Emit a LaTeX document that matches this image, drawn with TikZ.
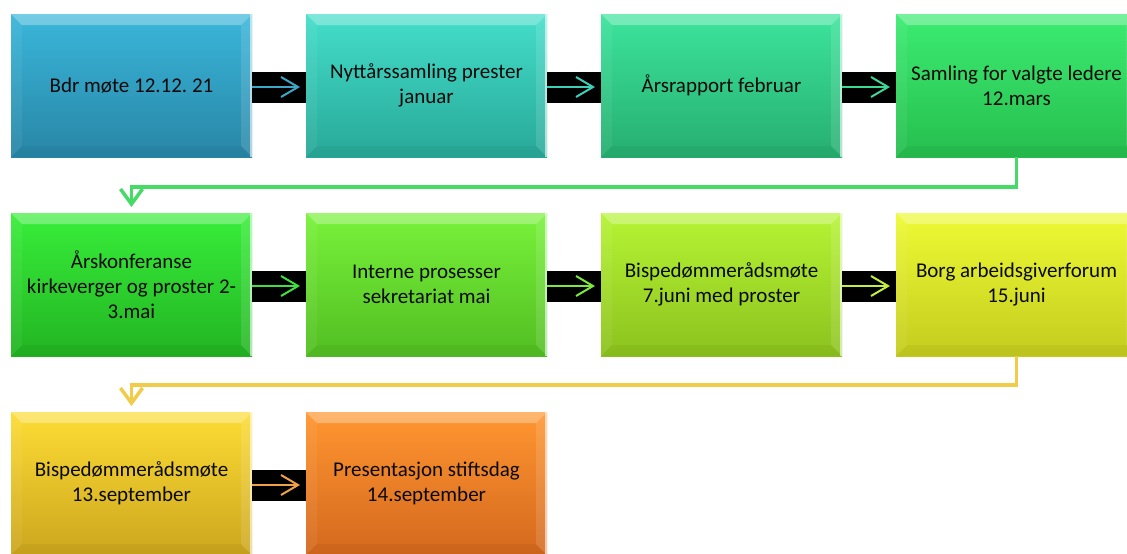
\documentclass[tikz,border=0pt]{standalone}
\usepackage{fontspec}
\setmainfont{Carlito}
\frenchspacing
\usetikzlibrary{arrows.meta,calc}
\definecolor{txtc}{HTML}{0A0A0A}
\definecolor{bat}{HTML}{3AB6DA}\definecolor{bab}{HTML}{2886A6}
\definecolor{bbt}{HTML}{44DECA}\definecolor{bbb}{HTML}{28A898}
\definecolor{bct}{HTML}{3CE49C}\definecolor{bcb}{HTML}{26AE70}
\definecolor{bdt}{HTML}{3CEC72}\definecolor{bdb}{HTML}{26BE4E}
\definecolor{bet}{HTML}{38EE3A}\definecolor{beb}{HTML}{22B422}
\definecolor{bft}{HTML}{78F23A}\definecolor{bfb}{HTML}{52BE22}
\definecolor{bgt}{HTML}{B6F434}\definecolor{bgb}{HTML}{8CC21E}
\definecolor{bht}{HTML}{EEFA34}\definecolor{bhb}{HTML}{C4CC1E}
\definecolor{bit}{HTML}{FDDC34}\definecolor{bib}{HTML}{CCA61E}
\definecolor{bjt}{HTML}{FF9630}\definecolor{bjb}{HTML}{D4681E}
\definecolor{aa}{HTML}{3CA8C8}
\definecolor{ab}{HTML}{3CD0B8}
\definecolor{ac}{HTML}{3CD898}
\definecolor{ae}{HTML}{40E040}
\definecolor{af}{HTML}{7CE83C}
\definecolor{ag}{HTML}{C4EE3C}
\definecolor{ai}{HTML}{F0A048}
\definecolor{sa}{HTML}{46DA66}
\definecolor{sb}{HTML}{F0CC48}
\tikzset{
  bevel/.style={path picture={
    \path (path picture bounding box.north west) coordinate (pnw)
          (path picture bounding box.south east) coordinate (pse);
    \fill[white,opacity=.30] (pnw) -- (pnw -| pse) -- ([xshift=-11pt,yshift=-11pt]pnw -| pse) -- ([xshift=11pt,yshift=-11pt]pnw) -- cycle;
    \fill[white,opacity=.06] (pnw) -- ([xshift=11pt,yshift=-11pt]pnw) -- ([xshift=11pt,yshift=11pt]pnw |- pse) -- (pnw |- pse) -- cycle;
    \fill[black,opacity=.04] (pse) -- (pse -| pnw) -- ([xshift=11pt,yshift=11pt]pse -| pnw) -- ([xshift=-11pt,yshift=11pt]pse) -- cycle;
    \fill[white,opacity=.12] (pse) -- ([xshift=-11pt,yshift=11pt]pse) -- ([xshift=-11pt,yshift=-11pt]pnw -| pse) -- (pnw -| pse) -- cycle;
    \fill[white,opacity=.6] ([xshift=-2.5pt]pnw -| pse) rectangle (pse);
  }},
  stepbox/.style n args={2}{rectangle, minimum width=241pt, minimum height=143pt,
    inner sep=0pt, outer sep=0pt, top color=#1, bottom color=#2, bevel,
    align=center, text=txtc, font=\fontsize{21}{25}\selectfont},
  barbox/.style={rectangle, fill=black, minimum width=54pt, minimum height=31pt, inner sep=0pt, outer sep=0pt},
  flow/.style={line width=2pt, -{Straight Barb[length=17pt,width=20pt]}, shorten >=6pt},
  loopline/.style={line width=3.5pt, -{Straight Barb[length=15pt,width=22pt]}, shorten >=6pt},
}
\begin{document}
\begin{tikzpicture}
\useasboundingbox (0,0) rectangle (1127pt,-554pt);
\fill[white] (0,0) rectangle (1127pt,-554pt);
\clip (0,0) rectangle (1127pt,-554pt);
% row 1
\node[stepbox={bat}{bab}] (b1) at (131.5pt,-85.5pt) {Bdr møte 12.12. 21};
\node[stepbox={bbt}{bbb}] (b2) at (426.5pt,-85.5pt) {Nyttårssamling prester\\januar};
\node[stepbox={bct}{bcb}] (b3) at (721.5pt,-85.5pt) {Årsrapport februar};
\node[stepbox={bdt}{bdb}] (b4) at (1016.5pt,-85.5pt) {Samling for valgte ledere\\12.mars};
% row 2
\node[stepbox={bet}{beb}] (b5) at (131.5pt,-284.5pt) {Årskonferanse\\kirkeverger og proster 2-\\3.mai};
\node[stepbox={bft}{bfb}] (b6) at (426.5pt,-284.5pt) {Interne prosesser\\sekretariat mai};
\node[stepbox={bgt}{bgb}] (b7) at (721.5pt,-284.5pt) {Bispedømmerådsmøte\\7.juni med proster};
\node[stepbox={bht}{bhb}] (b8) at (1016.5pt,-284.5pt) {Borg arbeidsgiverforum\\15.juni};
% row 3
\node[stepbox={bit}{bib}] (b9) at (131.5pt,-483.5pt) {Bispedømmerådsmøte\\13.september};
\node[stepbox={bjt}{bjb}] (b10) at (426.5pt,-483.5pt) {Presentasjon stiftsdag\\14.september};
% bars
\node[barbox] (k1) at ($(b1.east)!.5!(b2.west)+(0,-1.5pt)$) {};
\node[barbox] (k2) at ($(b2.east)!.5!(b3.west)+(0,-1.5pt)$) {};
\node[barbox] (k3) at ($(b3.east)!.5!(b4.west)+(0,-1.5pt)$) {};
\node[barbox] (k5) at ($(b5.east)!.5!(b6.west)+(0,-1.5pt)$) {};
\node[barbox] (k6) at ($(b6.east)!.5!(b7.west)+(0,-1.5pt)$) {};
\node[barbox] (k7) at ($(b7.east)!.5!(b8.west)+(0,-1.5pt)$) {};
\node[barbox] (k9) at ($(b9.east)!.5!(b10.west)+(0,-1.5pt)$) {};
% arrows
\draw[flow, draw=aa] ([yshift=-1.5pt]b1.east) -- ([yshift=-1.5pt]b2.west);
\draw[flow, draw=ab] ([yshift=-1.5pt]b2.east) -- ([yshift=-1.5pt]b3.west);
\draw[flow, draw=ac] ([yshift=-1.5pt]b3.east) -- ([yshift=-1.5pt]b4.west);
\draw[flow, draw=ae] ([yshift=-1.5pt]b5.east) -- ([yshift=-1.5pt]b6.west);
\draw[flow, draw=af] ([yshift=-1.5pt]b6.east) -- ([yshift=-1.5pt]b7.west);
\draw[flow, draw=ag] ([yshift=-1.5pt]b7.east) -- ([yshift=-1.5pt]b8.west);
\draw[flow, draw=ai] ([yshift=-1.5pt]b9.east) -- ([yshift=-1.5pt]b10.west);
% row links
\draw[loopline, draw=sa] (b4.south) -- ++(0,-30pt) -| (b5.north);
\draw[loopline, draw=sb] (b8.south) -- ++(0,-29pt) -| (b9.north);
\end{tikzpicture}
\end{document}
